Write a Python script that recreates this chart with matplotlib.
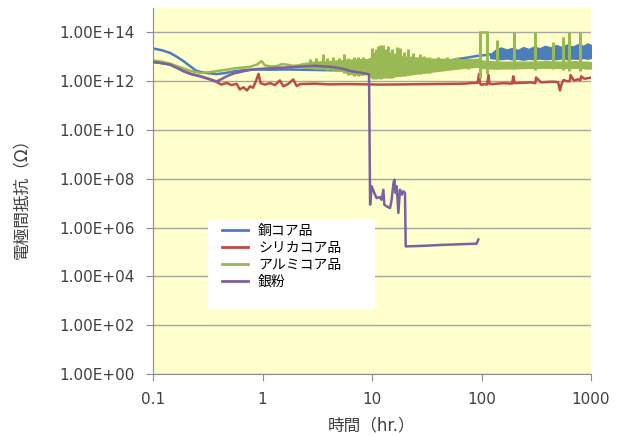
import numpy as np
import matplotlib.pyplot as plt
from matplotlib.patches import Rectangle

plt.rcParams['font.family'] = ['DejaVu Sans', 'Noto Sans CJK JP']

###############################################################################
# Data (time in hours, resistance stored as log10 of ohms)
###############################################################################
labels = ['銅コア品', 'シリカコア品', 'アルミコア品', '銀粉']
colors = ['#4a7ebb', '#be4b48', '#98b954', '#7d60a0']

# copper core
cu_t = [0.1, 0.12, 0.143, 0.165, 0.19, 0.22, 0.25, 0.3, 0.38, 0.45, 0.55, 0.7,
        0.9, 1.2, 1.6, 2.2, 3.0, 4.0, 5.5, 7.0, 9.0, 12, 16, 22, 30, 40, 50,
        60, 70, 80, 93, 105, 120]
cu_log = [13.34, 13.27, 13.16, 13.0, 12.82, 12.6, 12.42, 12.34, 12.29, 12.33,
          12.4, 12.46, 12.48, 12.47, 12.48, 12.47, 12.46, 12.45, 12.44, 12.42,
          12.45, 12.5, 12.55, 12.6, 12.68, 12.76, 12.84, 12.9, 12.95, 12.99,
          13.04, 13.06, 13.1]
cu_band_t = [120, 135, 150, 170, 190, 215, 240, 270, 300, 340, 380, 430, 480,
             540, 600, 680, 760, 850, 930, 1000]
cu_band_lo = [12.95, 12.92, 12.9, 12.93, 12.9, 12.92, 12.88, 12.92, 12.9, 12.93,
              12.9, 12.92, 12.9, 12.94, 12.9, 12.93, 12.92, 12.95, 12.92, 12.95]
cu_band_hi = [13.1, 13.3, 13.38, 13.3, 13.36, 13.28, 13.4, 13.32, 13.42, 13.35,
              13.45, 13.38, 13.48, 13.4, 13.5, 13.42, 13.52, 13.45, 13.55, 13.48]

# silica core
si_t = [0.1, 0.12, 0.143, 0.165, 0.19, 0.22, 0.27, 0.33, 0.38, 0.42, 0.47, 0.52,
        0.58, 0.62, 0.67, 0.72, 0.77, 0.82, 0.87, 0.92, 0.96, 1.05, 1.17, 1.3,
        1.44, 1.55, 1.72, 1.91, 2.05, 2.2, 3, 4, 6, 9, 12, 20, 30, 50, 70, 85,
        92, 95, 97, 100, 105, 112, 116, 118, 125, 140, 160, 190, 195, 200, 230,
        280, 310, 315, 350, 400, 450, 500, 520, 540, 560, 600, 640, 650, 700,
        760, 800, 810, 870, 930, 1000]
si_log = [12.79, 12.74, 12.68, 12.55, 12.41, 12.3, 12.2, 12.08, 11.97, 11.86,
          11.93, 11.84, 11.89, 11.66, 11.75, 11.62, 11.79, 11.73, 12.0, 12.3,
          11.92, 11.86, 11.92, 11.84, 12.03, 11.79, 11.89, 12.07, 11.8, 11.88,
          11.9, 11.87, 11.88, 11.87, 11.86, 11.87, 11.88, 11.89, 11.9, 11.93,
          11.93, 12.3, 11.9, 11.85, 11.88, 11.86, 12.25, 11.9, 11.88, 11.9,
          11.92, 11.9, 12.2, 11.92, 11.93, 11.95, 11.92, 12.15, 11.95, 11.97,
          11.98, 11.96, 11.62, 11.9, 12.05, 12.0, 12.0, 12.25, 12.02, 12.08,
          12.04, 12.2, 12.1, 12.12, 12.15]

# alumina core
al_t = [0.1, 0.12, 0.143, 0.165, 0.19, 0.22, 0.27, 0.33, 0.38, 0.47, 0.55, 0.66,
        0.77, 0.89, 0.98, 1.05, 1.2, 1.35, 1.5, 1.66, 1.9, 2.2]
al_log = [12.85, 12.8, 12.72, 12.62, 12.52, 12.42, 12.34, 12.37, 12.41, 12.47,
          12.52, 12.56, 12.59, 12.68, 12.82, 12.65, 12.6, 12.62, 12.7, 12.68,
          12.63, 12.65]
al_band_t = [2.2, 3.0, 4.0, 5.0, 6.3, 7.8, 9.0, 9.6, 10.6, 12, 14, 17, 20, 24,
             30, 36, 45, 55, 70, 85, 92, 100, 115, 150, 200, 300, 400, 500,
             600, 700, 800, 900, 1000]
al_band_lo = [12.58, 12.52, 12.5, 12.47, 12.3, 12.27, 12.3, 12.2, 12.15, 12.17,
              12.2, 12.22, 12.25, 12.3, 12.35, 12.4, 12.45, 12.5, 12.55, 12.58,
              12.6, 12.55, 12.52, 12.52, 12.53, 12.55, 12.55, 12.55, 12.55,
              12.55, 12.55, 12.52, 12.52]
al_band_hi = [12.72, 12.8, 12.82, 12.85, 12.88, 12.9, 12.9, 12.95, 13.1, 13.1,
              13.05, 13.05, 13.0, 12.98, 12.95, 12.92, 12.92, 12.9, 12.9, 12.9,
              12.92, 12.85, 12.82, 12.8, 12.8, 12.8, 12.82, 12.8, 12.8, 12.82,
              12.8, 12.8, 12.78]
al_spike_t = [2.7, 3.1, 3.6, 3.9, 4.4, 5.0, 5.5, 6.0, 6.8, 7.5, 8.3, 9.9, 10.3,
              10.9, 11.4, 11.8, 12.3, 12.7, 13.3, 14.1, 14.6, 15.1, 15.9, 16.8,
              17.4, 18.0, 19.5, 21.5, 23.0, 23.8, 27.4, 30, 33, 40, 48, 60, 75,
              96, 113, 138, 197, 310, 450, 560, 630, 790]
al_spike_lo = [12.55, 12.5, 12.5, 12.45, 12.45, 12.4, 12.35, 12.25, 12.22, 12.2,
               12.25, 12.15, 12.1, 12.1, 12.12, 12.1, 12.12, 12.15, 12.12, 12.15,
               12.15, 12.15, 12.18, 12.2, 12.2, 12.2, 12.22, 12.25, 12.3, 12.3,
               12.3, 12.35, 12.35, 12.4, 12.45, 12.5, 12.5,
               12.15, 12.3, 12.5, 12.5, 12.45, 12.5, 12.45, 12.4, 12.4]
al_spike_hi = [12.9, 12.95, 13.13, 12.95, 13.0, 12.95, 13.1, 12.95, 13.0, 12.98,
               13.0, 13.37, 13.2, 13.3, 13.45, 13.5, 13.2, 13.5, 13.3, 13.45,
               13.2, 13.3, 13.15, 13.4, 13.1, 13.35, 13.2, 13.3, 13.05, 13.15,
               13.1, 13.05, 13.0, 13.0, 12.98, 12.98, 12.95,
               14.0, 14.0, 13.7, 14.0, 14.0, 13.6, 13.8, 14.0, 14.0]
al_loop_t = [96, 113]
al_loop_log = [14.0, 14.0]

# silver powder
ag_t = [0.1, 0.12, 0.143, 0.165, 0.19, 0.22, 0.27, 0.33, 0.38, 0.42, 0.47, 0.55,
        0.66, 0.77, 0.9, 1.1, 1.4, 1.8, 2.2, 3.0, 4.4, 5.5, 6.3, 7.8, 9.0, 9.39,
        9.6, 9.94, 10.5, 11.0, 11.8, 12.2, 12.7, 12.95, 13.6, 14.6, 15.1, 15.7,
        16.0, 16.4, 16.8, 17.4, 18.0, 18.7, 19.3, 20.0, 20.3, 28.4, 43.3, 66,
        90, 93.5]
ag_log = [12.79, 12.74, 12.68, 12.55, 12.41, 12.3, 12.2, 12.08, 11.99, 12.08,
          12.2, 12.32, 12.4, 12.46, 12.5, 12.52, 12.55, 12.57, 12.6, 12.63,
          12.58, 12.5, 12.42, 12.35, 12.3, 12.28, 6.94, 7.69, 7.42, 7.21, 7.25,
          7.14, 7.55, 6.94, 6.87, 6.80, 7.14, 7.83, 7.96, 7.42, 7.69, 6.6, 7.55,
          7.35, 7.49, 7.42, 5.23, 5.25, 5.29, 5.32, 5.34, 5.51]

x_ticks = [0.1, 1, 10, 100, 1000]
x_ticklabels = ['0.1', '1', '10', '100', '1000']
y_exp = [0, 2, 4, 6, 8, 10, 12, 14]
y_ticklabels = ['1.00E+%02d' % e for e in y_exp]


def p(v):
    return 10.0 ** np.asarray(v)


###############################################################################
# Figure
###############################################################################
fig = plt.figure(figsize=(6.2, 4.36), dpi=100)
ax = fig.add_axes([0.2468, 0.1422, 0.7065, 0.8395])
ax.set_facecolor('#ffffcc')

lw = 1.8
ax.plot(cu_t, p(cu_log), color=colors[0], lw=lw, label=labels[0], zorder=2)
ax.fill_between(cu_band_t, p(cu_band_lo), p(cu_band_hi), color=colors[0],
                lw=1, zorder=2)
ax.plot(si_t, p(si_log), color=colors[1], lw=lw, label=labels[1], zorder=3)
ax.plot(al_t, p(al_log), color=colors[2], lw=lw, label=labels[2], zorder=3)
ax.fill_between(al_band_t, p(al_band_lo), p(al_band_hi), color=colors[2],
                lw=1, zorder=3)
ax.vlines(al_spike_t, p(al_spike_lo), p(al_spike_hi), color=colors[2],
          lw=2.2, zorder=3)
ax.plot(al_loop_t, p(al_loop_log), color=colors[2], lw=lw, zorder=3)
ax.plot(ag_t, p(ag_log), color=colors[3], lw=lw, label=labels[3], zorder=4)

ax.set_xscale('log')
ax.set_yscale('log')
ax.set_xlim(0.1, 1000)
ax.set_ylim(1, 1e15)
ax.set_xticks(x_ticks)
ax.set_xticklabels(x_ticklabels)
ax.set_yticks(p(y_exp))
ax.set_yticklabels(y_ticklabels)
ax.minorticks_off()

ax.set_axisbelow(True)
ax.yaxis.grid(True, color='#a8a8a0', lw=1)
for s in ['top', 'right']:
    ax.spines[s].set_visible(False)
for s in ['left', 'bottom']:
    ax.spines[s].set_color('#8c8c8c')
ax.tick_params(axis='both', length=5, color='#8c8c8c', labelsize=11,
               labelcolor='#404040')
ax.tick_params(axis='y', pad=8)
ax.tick_params(axis='x', pad=8)

ax.set_xlabel('時間（hr.）', fontsize=12, color='#404040', labelpad=7)
ax.set_ylabel('電極間抵抗（Ω）', fontsize=12, color='#404040')
ax.yaxis.set_label_coords(-0.28, 0.49)

# legend with white box
ax.add_patch(Rectangle((0.1256, 0.1776), 0.381, 0.2459, transform=ax.transAxes,
                       facecolor='white', edgecolor='none', zorder=5))
leg = ax.legend(loc='upper left', bbox_to_anchor=(0.1575, 0.41),
                frameon=False, borderpad=0, borderaxespad=0,
                handlelength=1.9, handletextpad=0.7, labelspacing=0.22,
                prop={'family': ['Noto Sans CJK JP', 'DejaVu Sans'], 'size': 10})
leg.set_zorder(6)
for h in leg.get_lines():
    h.set_linewidth(2)

plt.savefig('out.png', dpi=100)
